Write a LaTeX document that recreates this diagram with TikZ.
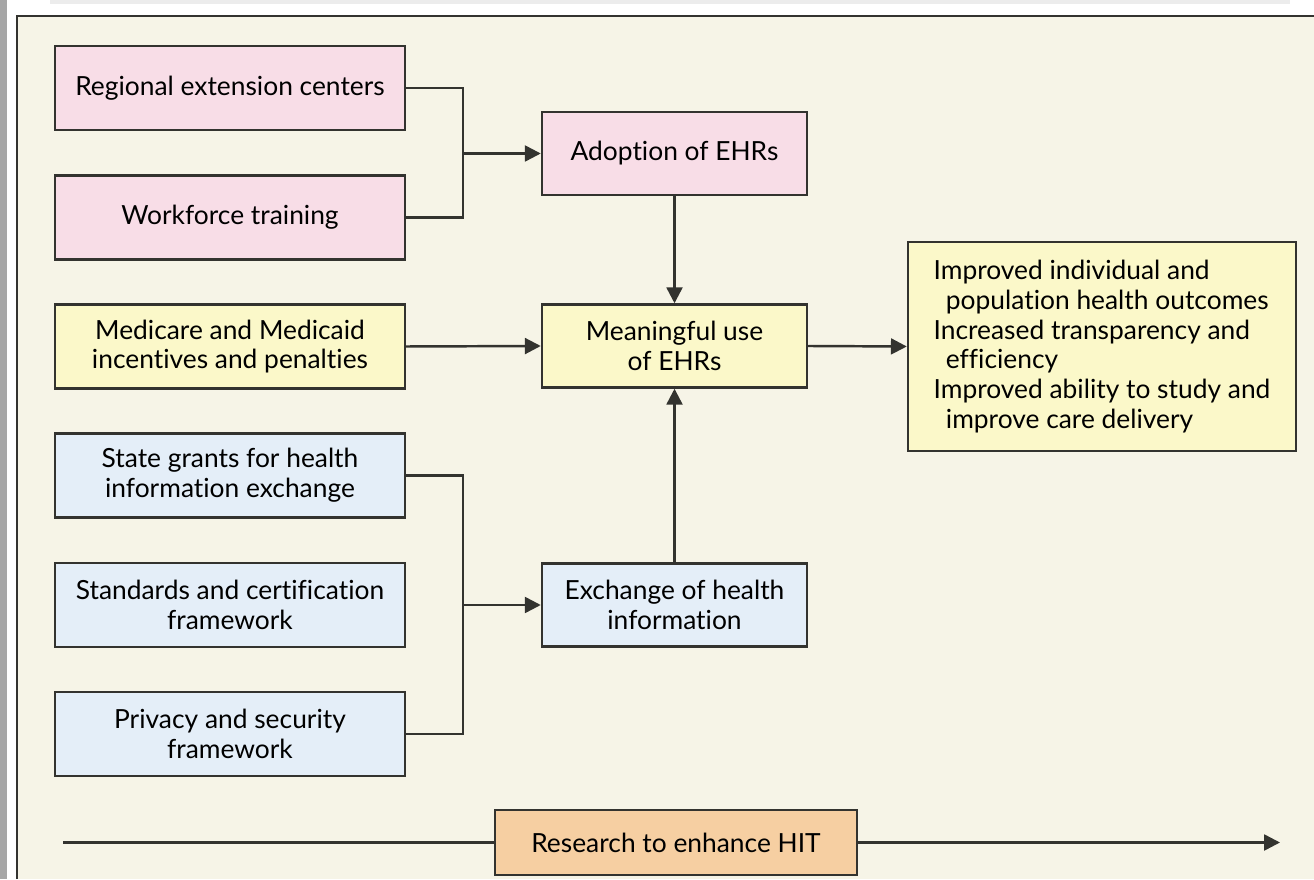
\documentclass[tikz,border=0pt]{standalone}
\usepackage{fontspec}
\setmainfont{Lato}[Ligatures=NoCommon]
\usetikzlibrary{arrows.meta}
\definecolor{panelbg}{HTML}{F6F4E7}
\definecolor{pinkfill}{HTML}{F8DDE7}
\definecolor{yellowfill}{HTML}{FBF8C9}
\definecolor{bluefill}{HTML}{E4EEF8}
\definecolor{orangefill}{HTML}{F6CFA2}
\definecolor{edge}{HTML}{33332F}
\begin{document}
\begin{tikzpicture}[box/.style={draw=edge, line width=1.4pt, align=center, inner sep=0pt, font=\fontsize{15}{17}\selectfont},
lbox/.style={box, minimum width=7cm, minimum height=1.68cm},
cbox/.style={box, minimum width=5.3cm, minimum height=1.66cm},
link/.style={draw=edge, line width=1.4pt},
arr/.style={link, -{Triangle[length=9pt,width=9pt]}}]
\useasboundingbox (0,0) rectangle (26.28,17.58);
\fill[gray!70] (0,0) rectangle (0.14,17.58);
\fill[white] (0.14,0) rectangle (26.28,17.58);
\fill[gray!15] (1,17.5) rectangle (25.8,17.58);
\fill[panelbg] (0.34,0) rectangle (26.28,17.26);
\draw[edge, line width=1.4pt] (0.34,0) -- (0.34,17.26) -- (26.28,17.26);
\node[lbox, fill=pinkfill] (rec) at (4.6,15.82) {Regional extension centers};
\node[lbox, fill=pinkfill] (wft) at (4.6,13.23) {Workforce training};
\node[lbox, fill=yellowfill] (med) at (4.6,10.65) {Medicare and Medicaid\\incentives and penalties};
\node[lbox, fill=bluefill] (sgr) at (4.6,8.07) {State grants for health\\information exchange};
\node[lbox, fill=bluefill] (std) at (4.6,5.48) {Standards and certification\\framework};
\node[lbox, fill=bluefill] (prv) at (4.6,2.90) {Privacy and security\\framework};
\node[cbox, fill=pinkfill] (ado) at (13.49,14.51) {Adoption of EHRs};
\node[cbox, fill=yellowfill] (mea) at (13.49,10.66) {Meaningful use\\of EHRs};
\node[cbox, fill=bluefill] (exc) at (13.49,5.48) {Exchange of health\\information};
\node[box, fill=yellowfill, align=left, minimum width=7.76cm, minimum height=4.18cm] (out) at (22.04,10.65) {Improved individual and\\\hspace*{7pt}population health outcomes\\Increased transparency and\\\hspace*{7pt}efficiency\\Improved ability to study and\\\hspace*{7pt}improve care delivery};
\node[box, fill=orangefill, minimum width=7.24cm, minimum height=1.3cm] (res) at (13.52,0.73) {Research to enhance HIT};
\coordinate (j1) at (9.26,14.51);
\coordinate (j2) at (9.26,5.48);
\coordinate (rs) at (1.26,0.73);
\coordinate (re) at (25.6,0.73);
\draw[link] (rec.east) -| (j1) |- (wft.east);
\draw[arr] (j1) -- (ado.west);
\draw[link] (sgr.east) -| (j2) |- (prv.east);
\draw[arr] (j2) -- (exc.west);
\draw[arr] (ado.south) -- (mea.north);
\draw[arr] (med.east) -- (mea.west);
\draw[arr] (exc.north) -- (mea.south);
\draw[arr] (mea.east) -- (out.west);
\draw[link] (rs) -- (res.west);
\draw[arr] (res.east) -- (re);
\end{tikzpicture}
\end{document}
